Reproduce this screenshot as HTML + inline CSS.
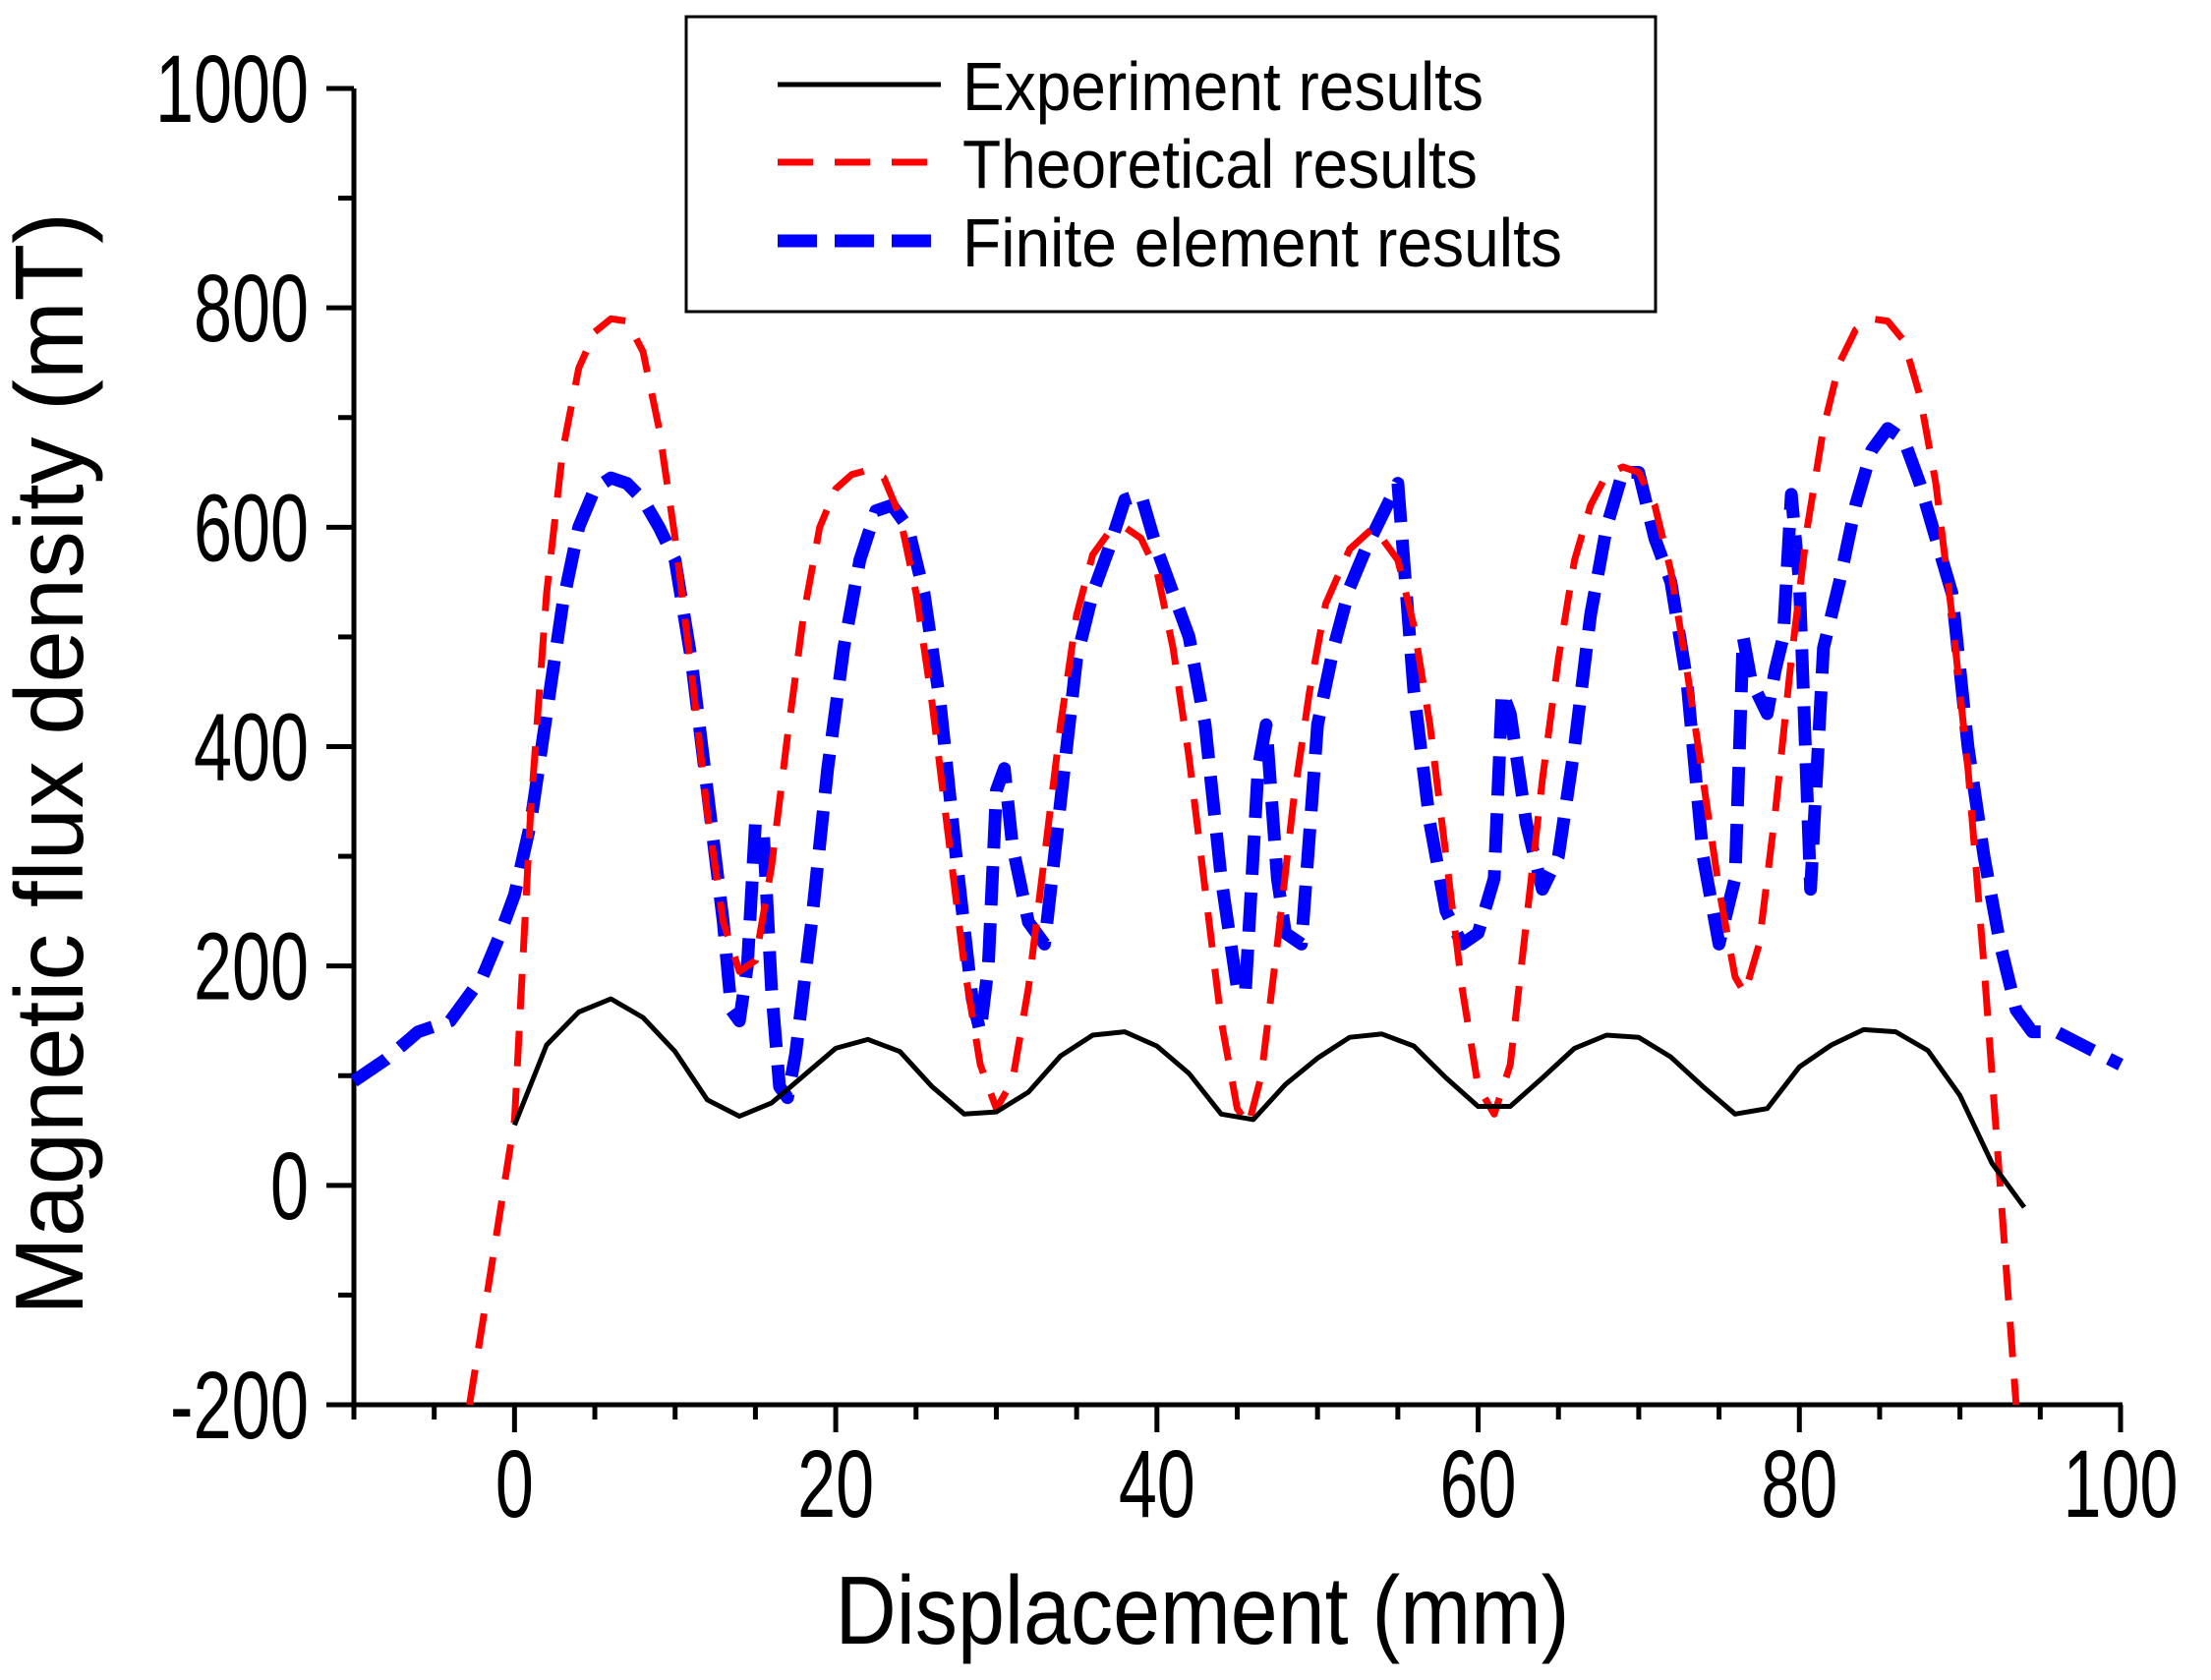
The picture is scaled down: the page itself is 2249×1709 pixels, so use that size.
<!DOCTYPE html>
<html><head><meta charset="utf-8"><style>
html,body{margin:0;padding:0;background:#fff;}
svg{display:block;font-family:"Liberation Sans",Arial,sans-serif;}
</style></head><body>
<svg id="chart" width="2249" height="1709" viewBox="0 0 2249 1709">
<g id="axes"></g>
<g id="series"></g>
<text x="58" y="777" font-size="98" text-anchor="middle" textLength="1122" lengthAdjust="spacingAndGlyphs" transform="rotate(-90 58 777)" dominant-baseline="middle">Magnetic flux density (mT)</text>
<text x="1223" y="1672" font-size="98" text-anchor="middle" textLength="747" lengthAdjust="spacingAndGlyphs">Displacement (mm)</text>
<g>
<rect x="698" y="17" width="986" height="300" fill="#fff" stroke="#000" stroke-width="3"/>
<line x1="791" y1="86" x2="957" y2="86" stroke="#000" stroke-width="5"/>
<text x="979" y="112" font-size="70" textLength="530" lengthAdjust="spacingAndGlyphs">Experiment results</text>
<line x1="791" y1="165" x2="957" y2="165" stroke="#f00" stroke-width="7" stroke-dasharray="36 22"/>
<text x="979" y="191" font-size="70" textLength="524" lengthAdjust="spacingAndGlyphs">Theoretical results</text>
<line x1="791" y1="245" x2="957" y2="245" stroke="#00f" stroke-width="13" stroke-dasharray="40 18"/>
<text x="979" y="271" font-size="70" textLength="610" lengthAdjust="spacingAndGlyphs">Finite element results</text>
</g>
</svg>
<script>
const xTicks=[0,20,40,60,80,100];
const yTicks=[-200,0,200,400,600,800,1000];
const expX=[0,2,4,6,8,10,12,14,16,18,20,22,24,26,28,30,32,34,36,38,40,42,44,46,48,50,52,54,56,58,60,62,64,66,68,70,72,74,76,78,80,82,84,86,88,90,92,94];
const expY=[55,128,158,170,153,122,78,63,75,100,125,133,122,90,65,67,85,118,137,140,127,102,65,60,92,116,135,138,127,98,72,72,98,125,137,135,117,90,65,70,108,128,142,140,123,82,20,-20];
const thX=[-2.8,-1.5,0,1,2,3,4,5,6,7,8,9,10,11,12,13,14,15,16,17,18,19,20,21,22,23,24,25,26,27,28,29,30,31,32,33,34,35,36,37,38,39,40,41,42,43,44,45,45.7,46.5,47.5,48.5,49.5,50.5,52,53.5,55,56,57,58,59,60,61,62,63,64,65,66,67,68,69,70,71,72,73,74,75,76,76.6,77.5,78.5,79.5,80.5,81.5,82.5,83.5,84.5,85.5,86.5,87.5,88.5,89.5,90.5,91.5,92.5,93.5];
const thY=[-200,-80,60,340,540,670,745,778,790,788,760,690,590,470,340,240,195,205,290,410,520,600,635,648,652,645,610,540,440,320,200,110,70,95,180,300,420,520,575,595,600,590,560,490,390,270,150,70,55,100,220,350,450,530,580,600,570,510,420,300,180,90,65,110,240,370,480,570,620,648,655,650,620,560,470,370,270,190,175,220,340,480,600,690,750,780,790,788,770,720,640,520,380,200,0,-200];
const feX=[-10,-8,-6,-4,-2,-1,0,1,2,3,4,5,6,7,8,9,10,11,12,13,13.5,14,14.5,15,15.5,16,16.5,17,17.5,18.5,19.5,20.5,21.5,22.5,23.5,24.5,25.5,26.5,27.5,28.5,29,29.5,30,30.5,31,32,33,34,35,36,37,38,39,40,41,42,43,44,45,45.5,46.3,46.8,47.5,48,49,50,51,52,53,54,55,56,57,58,59,60,61,61.5,62,63,64,65,66,67,68,69,70,71,72,73,74,75,76,76.5,77,78,78.5,79,79.5,80,80.7,81.5,82.5,83.5,84.5,85.5,86.5,87.5,88.5,89.5,90.5,91.5,92.5,93.5,94.5,96,98,100];
const feY=[95,115,140,150,190,225,265,330,430,530,600,635,645,640,625,600,570,480,360,240,160,150,200,330,320,180,90,80,120,240,380,490,570,615,620,600,540,440,300,170,140,200,360,380,310,240,220,350,480,540,580,625,630,580,540,500,420,280,180,175,380,420,280,230,220,420,490,545,580,610,640,450,330,250,220,230,280,450,430,330,270,300,400,520,600,650,650,590,550,460,300,220,280,500,460,430,470,500,630,550,270,490,550,620,670,690,680,640,590,540,400,300,220,160,140,140,125,110];

const NS='http://www.w3.org/2000/svg';
const X0=360,X1=2157,Y0=1429,Y1=90;
function sx(v){return X0+(v+10)/110*(X1-X0);}
function sy(v){return Y0-(v+200)/1200*(Y0-Y1);}
function mk(tag,attrs,parent){const e=document.createElementNS(NS,tag);for(const k in attrs)e.setAttribute(k,attrs[k]);parent.appendChild(e);return e;}
function lblLen(s){let w=0;for(const c of s)w+=(c==='-')?24:39;return w;}
const axes=document.getElementById('axes');
let ax=mk('line',{x1:X0,y1:Y0,x2:X1+2,y2:Y0,stroke:'#000','stroke-width':5},axes);


let ay=mk('line',{x1:X0,y1:Y0+2,x2:X0,y2:Y1,stroke:'#000','stroke-width':5},axes);


for(let v=-10;v<=100;v+=5){const len=(v%20===0)?28:15;
 const t=mk('line',{x1:sx(v),y1:Y0,x2:sx(v),y2:Y0+len,stroke:'#000','stroke-width':5},axes);
 
 }
xTicks.forEach(v=>{const s=String(v);const t=mk('text',{x:sx(v),y:1543,'font-size':97,'text-anchor':'middle',textLength:lblLen(s),lengthAdjust:'spacingAndGlyphs'},axes);t.textContent=s;
 
 });
for(let v=-200;v<=1000;v+=100){const len=(v%200===0)?28:16;
 const t=mk('line',{x1:X0-len,y1:sy(v),x2:X0,y2:sy(v),stroke:'#000','stroke-width':5},axes);
 
 }
yTicks.forEach(v=>{const s=String(v);const t=mk('text',{x:314,y:sy(v)+34,'font-size':97,'text-anchor':'end',textLength:lblLen(s),lengthAdjust:'spacingAndGlyphs'},axes);t.textContent=s;
 
 });
const ser=document.getElementById('series');
function pts(xs,ys){return xs.map((x,i)=>sx(x).toFixed(1)+','+sy(ys[i]).toFixed(1)).join(' ');}
let pFe=mk('polyline',{points:pts(feX,feY),fill:'none',stroke:'#00f','stroke-width':13,'stroke-dasharray':'40 18','stroke-linejoin':'round'},ser);


let pTh=mk('polyline',{points:pts(thX,thY),fill:'none',stroke:'#f00','stroke-width':7,'stroke-dasharray':'36 22','stroke-linejoin':'round'},ser);


let pEx=mk('polyline',{points:pts(expX,expY),fill:'none',stroke:'#000','stroke-width':5,'stroke-linejoin':'round'},ser);


</script>
</body></html>
